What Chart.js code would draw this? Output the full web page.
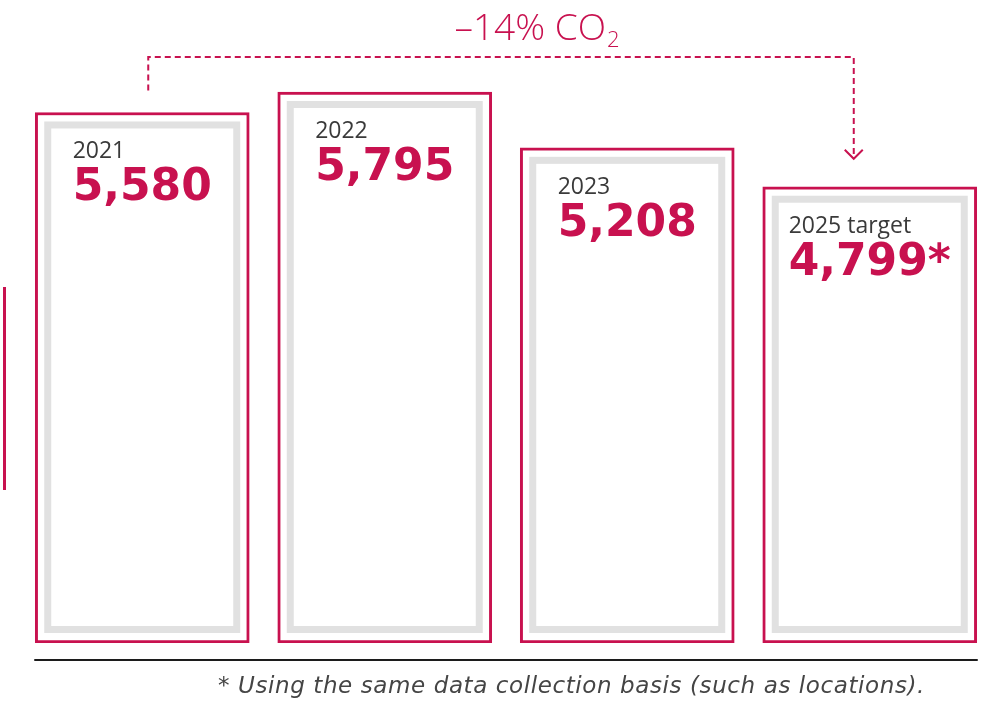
<!DOCTYPE html>
<html>
<head>
<meta charset="utf-8">
<title>CO2 emissions</title>
<script src="https://cdn.jsdelivr.net/npm/chart.js@4.4.1/dist/chart.umd.min.js"></script>
<style>
  html, body { margin: 0; padding: 0; background: #fff; }
  #wrap { position: relative; width: 991px; height: 703px; }
</style>
</head>
<body>
<div id="wrap"><canvas id="co2Chart" width="991" height="703"></canvas></div>
<script>
// Emissions per year (t CO2)
const years = ['2021', '2022', '2023', '2025 target'];
const emissions = [5580, 5795, 5208, 4799];
const valueLabels = ['5,580', '5,795', '5,208', '4,799*'];
const reductionText = '\u201314% CO';
const reductionSub = '2';
const footnote = '* Using the same data collection basis (such as locations).';

const crimson = '#c8114f';
const innerGrey = '#e1e1e1';

// frame inside each bar, year + value labels, bracket arrow, base line and note
const decorations = {
    id: 'decorations',
    afterDatasetsDraw(chart) {
        const ctx = chart.ctx;
        const bars = chart.getDatasetMeta(0).data.map(el => el.getProps(['x', 'y', 'base', 'width'], true));

        ctx.save();
        bars.forEach((b, i) => {
            const left = b.x - b.width / 2;
            ctx.strokeStyle = innerGrey;
            ctx.lineWidth = 7;
            ctx.strokeRect(left + 12.5, b.y + 12.5, b.width - 25, b.base - b.y - 26);

            ctx.font = '900 44px "DejaVu Sans"';
            const vw = ctx.measureText(valueLabels[i]).width;
            const inset = Math.min(38, (b.width - vw) / 2);

            ctx.textAlign = 'left';
            ctx.textBaseline = 'alphabetic';
            ctx.fillStyle = crimson;
            ctx.fillText(valueLabels[i], left + inset, b.y + 88);

            ctx.font = '23px "Open Sans"';
            ctx.fillStyle = '#3a3a3a';
            ctx.fillText(years[i], left + inset, b.y + 46);
        });

        // dashed bracket from first to last bar
        const first = bars[0], last = bars[bars.length - 1];
        const x1 = first.x + 6, x2 = last.x - 16, topY = 57;
        const tipY = last.y - 28;
        ctx.strokeStyle = crimson;
        ctx.lineWidth = 2;
        ctx.setLineDash([6, 4]);
        ctx.beginPath();
        ctx.moveTo(x1, first.y - 22);
        ctx.lineTo(x1, topY);
        ctx.lineTo(x2, topY);
        ctx.lineTo(x2, tipY);
        ctx.stroke();
        ctx.setLineDash([]);
        ctx.beginPath();
        ctx.moveTo(x2 - 9, tipY - 9);
        ctx.lineTo(x2, tipY);
        ctx.lineTo(x2 + 9, tipY - 9);
        ctx.stroke();

        // reduction label
        ctx.fillStyle = crimson;
        ctx.font = '300 37px "Open Sans"';
        const mw = ctx.measureText(reductionText).width;
        ctx.font = '300 22px "Open Sans"';
        const sw = ctx.measureText(reductionSub).width;
        const tx = (x1 + x2) / 2 + 36 - (mw + sw + 1) / 2;
        ctx.font = '300 37px "Open Sans"';
        ctx.fillText(reductionText, tx, 40);
        ctx.font = '300 22px "Open Sans"';
        ctx.fillText(reductionSub, tx + mw + 1, 47);

        // base line
        ctx.strokeStyle = '#1c1c1c';
        ctx.lineWidth = 2;
        ctx.beginPath();
        ctx.moveTo(first.x - first.width / 2 - 1, 660);
        ctx.lineTo(last.x + last.width / 2 + 1, 660);
        ctx.stroke();

        // side accent
        ctx.strokeStyle = crimson;
        ctx.lineWidth = 3;
        ctx.beginPath();
        ctx.moveTo(4.5, 287);
        ctx.lineTo(4.5, 490);
        ctx.stroke();

        // footnote
        ctx.font = 'italic 23px "DejaVu Sans"';
        ctx.letterSpacing = '0.6px';
        ctx.fillStyle = '#454545';
        ctx.textAlign = 'right';
        ctx.fillText(footnote, 925, 693);
        ctx.restore();
    }
};

const ctx = document.getElementById('co2Chart').getContext('2d');
new Chart(ctx, {
    type: 'bar',
    data: {
        labels: years,
        datasets: [{
            data: emissions,
            backgroundColor: '#ffffff',
            borderColor: crimson,
            borderWidth: 3,
            borderSkipped: false,
            barThickness: 214
        }]
    },
    options: {
        responsive: false,
        animation: false,
        devicePixelRatio: 1,
        layout: { padding: { top: 25, bottom: 60, left: 21, right: 0 } },
        scales: {
            x: { display: false },
            y: { display: false, min: 0, max: 6500 }
        },
        plugins: {
            legend: { display: false },
            tooltip: { enabled: false }
        }
    },
    plugins: [decorations]
});
</script>
</body>
</html>
